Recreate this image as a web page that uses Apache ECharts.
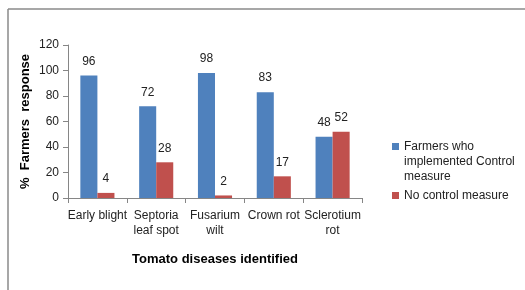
<!DOCTYPE html>
<html>
<head>
<meta charset="utf-8">
<script src="https://cdn.jsdelivr.net/npm/echarts@6/dist/echarts.min.js"></script>
<style>
	body { margin: 0; background: #fff; }
	#chart { width: 525px; height: 290px; }
</style>
</head>
<body>
<div id="chart"></div>
<script>
	// categories and values
	var diseases = ['Early blight', 'Septoria\nleaf spot', 'Fusarium\nwilt', 'Crown rot', 'Sclerotium\nrot'];
	var controlled = [96, 72, 98, 83, 48];
	var noControl = [4, 28, 2, 17, 52];
	var yTicks = { min: 0, max: 120, step: 20 };
	var seriesNames = ['Farmers who implemented Control measure', 'No control measure'];

	var font = 'Liberation Sans';
	var chart = echarts.init(document.getElementById('chart'));

	chart.setOption({
		animation: false,
		textStyle: { fontFamily: font },
		graphic: [
			// thin frame on the top and left edge only
			{ type: 'line', shape: { x1: 8, y1: 9, x2: 525, y2: 9 }, style: { stroke: '#8a8a8a', lineWidth: 1.5 } },
			{ type: 'line', shape: { x1: 8, y1: 9, x2: 8, y2: 290 }, style: { stroke: '#8a8a8a', lineWidth: 1.5 } }
		],
		grid: { left: 68, right: 163, top: 45, bottom: 92 },
		legend: {
			orient: 'vertical',
			left: 387,
			top: 104,
			itemWidth: 7,
			itemHeight: 7,
			itemGap: 4,
			icon: 'rect',
			textStyle: { fontSize: 12, color: '#222', lineHeight: 15 },
			// two empty lines first so the square sits beside the first line
			formatter: function (n) {
				return n === seriesNames[0] ? '\n\nFarmers who\nimplemented Control\nmeasure' : n;
			},
			data: seriesNames
		},
		xAxis: {
			type: 'category',
			data: diseases,
			name: 'Tomato diseases identified',
			nameLocation: 'middle',
			nameGap: 55,
			nameMoveOverlap: false,
			nameTextStyle: { fontSize: 13, fontWeight: 'bold', color: '#000' },
			axisLine: { lineStyle: { color: '#868686' } },
			axisTick: { show: true, length: 5, lineStyle: { color: '#868686' } },
			axisLabel: { fontSize: 12, color: '#222', margin: 10, lineHeight: 15, interval: 0 }
		},
		yAxis: {
			type: 'value',
			min: yTicks.min,
			max: yTicks.max,
			interval: yTicks.step,
			name: '%  Farmers  response',
			nameLocation: 'middle',
			nameRotate: 90,
			nameGap: 36,
			nameMoveOverlap: false,
			nameTextStyle: { fontSize: 13, fontWeight: 'bold', color: '#000' },
			axisLine: { show: true, lineStyle: { color: '#868686' } },
			axisTick: { show: true, length: 5, lineStyle: { color: '#868686' } },
			axisLabel: { fontSize: 12, color: '#222', margin: 9 },
			splitLine: { show: false }
		},
		series: [
			{
				name: seriesNames[0],
				type: 'bar',
				data: controlled,
				barGap: '0%',
				barCategoryGap: '42%',
				itemStyle: { color: '#4F81BD' },
				label: { show: true, position: 'top', distance: 8, fontSize: 12, color: '#222' }
			},
			{
				name: seriesNames[1],
				type: 'bar',
				data: noControl,
				itemStyle: { color: '#C0504D' },
				label: { show: true, position: 'top', distance: 8, fontSize: 12, color: '#222' }
			}
		]
	});
</script>
</body>
</html>
